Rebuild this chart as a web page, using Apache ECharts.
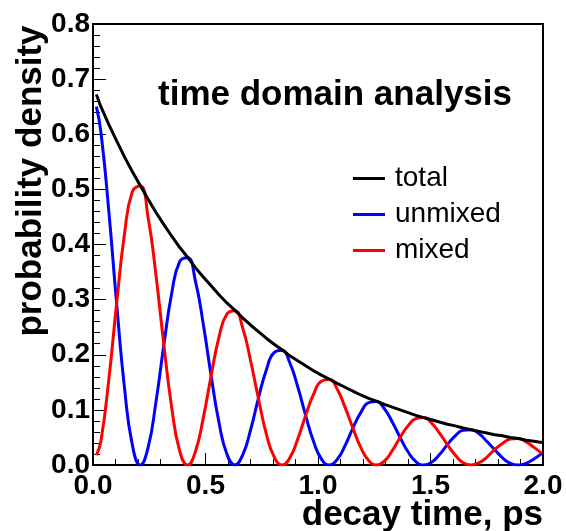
<!DOCTYPE html>
<html>
<head>
<meta charset="utf-8">
<script src="https://cdn.jsdelivr.net/npm/echarts@6/dist/echarts.min.js"></script>
<style>
  html, body { margin: 0; padding: 0; background: #fff; }
  #chart { width: 566px; height: 531px; }
</style>
</head>
<body>
<div id="chart"></div>
<script>
// decay time, ps
var times = [0.015, 0.035, 0.07, 0.105, 0.14, 0.175, 0.21, 0.245, 0.28, 0.315, 0.35, 0.385, 0.42,
  0.455, 0.49, 0.525, 0.56, 0.595, 0.63, 0.665, 0.7, 0.735, 0.77, 0.805, 0.84, 0.875, 0.91, 0.945,
  0.98, 1.015, 1.05, 1.085, 1.12, 1.155, 1.19, 1.225, 1.26, 1.295, 1.33, 1.365, 1.4, 1.435, 1.47,
  1.505, 1.54, 1.575, 1.61, 1.645, 1.68, 1.715, 1.75, 1.785, 1.82, 1.855, 1.89, 1.925, 1.96, 1.995];

var total = [0.672, 0.650, 0.618, 0.588, 0.559, 0.532, 0.507, 0.482, 0.458, 0.436, 0.415, 0.395, 0.377,
  0.358, 0.341, 0.325, 0.309, 0.294, 0.281, 0.267, 0.254, 0.242, 0.230, 0.219, 0.209, 0.198, 0.189,
  0.180, 0.171, 0.163, 0.156, 0.148, 0.141, 0.134, 0.127, 0.121, 0.116, 0.110, 0.105, 0.100, 0.095,
  0.090, 0.086, 0.082, 0.078, 0.074, 0.071, 0.067, 0.064, 0.061, 0.058, 0.055, 0.053, 0.050, 0.048,
  0.045, 0.043, 0.041];

var unmixed = [0.650, 0.604, 0.462, 0.293, 0.140, 0.036, 0.000, 0.032, 0.115, 0.218, 0.312, 0.369, 0.376,
  0.334, 0.256, 0.162, 0.077, 0.020, 0.000, 0.018, 0.063, 0.121, 0.172, 0.204, 0.208, 0.185, 0.142,
  0.090, 0.043, 0.011, 0.000, 0.010, 0.035, 0.067, 0.095, 0.113, 0.115, 0.102, 0.078, 0.050, 0.024,
  0.006, 0.000, 0.005, 0.019, 0.037, 0.053, 0.063, 0.064, 0.057, 0.043, 0.028, 0.013, 0.003, 0.000,
  0.003, 0.011, 0.021];

var mixed = [0.018, 0.043, 0.154, 0.293, 0.419, 0.496, 0.506, 0.449, 0.344, 0.218, 0.104, 0.026, 0.000,
  0.024, 0.085, 0.162, 0.232, 0.274, 0.280, 0.249, 0.190, 0.121, 0.057, 0.015, 0.000, 0.013, 0.047,
  0.090, 0.128, 0.152, 0.155, 0.138, 0.105, 0.067, 0.032, 0.008, 0.000, 0.007, 0.026, 0.050, 0.071,
  0.084, 0.086, 0.076, 0.058, 0.037, 0.018, 0.004, 0.000, 0.004, 0.014, 0.028, 0.039, 0.047, 0.048,
  0.042, 0.032, 0.021];

var legendNames = ['total', 'unmixed', 'mixed'];

var FONT = "'Liberation Sans', Arial, Helvetica, sans-serif";

function pairs(ys) {
  return times.map(function (t, i) { return [t, ys[i]]; });
}

var chart = echarts.init(document.getElementById('chart'), null, { renderer: 'canvas' });

var option = {
  backgroundColor: '#fff',
  animation: false,
  grid: {
    left: 93, top: 24, right: 23, bottom: 66,
    show: true, borderColor: '#000', borderWidth: 2, backgroundColor: 'transparent'
  },
  legend: {
    data: legendNames,
    orient: 'vertical',
    left: 353, top: 164,
    padding: 0,
    icon: 'rect',
    itemWidth: 32, itemHeight: 3,
    itemGap: 7,
    textStyle: { fontFamily: FONT, fontSize: 28, color: '#000', lineHeight: 29, padding: [0, 0, 0, 5] }
  },
  xAxis: {
    type: 'value', min: 0, max: 2, interval: 0.5,
    axisLine: { lineStyle: { color: '#000', width: 2 } },
    axisTick: { inside: true, length: 12, lineStyle: { color: '#000', width: 1 } },
    minorTick: { show: true, splitNumber: 5, length: 6, lineStyle: { color: '#000', width: 1 } },
    splitLine: { show: false },
    axisLabel: {
      margin: 7, fontFamily: FONT, fontSize: 28, fontWeight: 'bold', color: '#000',
      formatter: function (v) { return v.toFixed(1); }
    }
  },
  yAxis: {
    type: 'value', min: 0, max: 0.8, interval: 0.1,
    axisLine: { show: true, lineStyle: { color: '#000', width: 2 } },
    axisTick: { show: true, inside: true, length: 13, lineStyle: { color: '#000', width: 1 } },
    minorTick: { show: true, splitNumber: 5, length: 7, lineStyle: { color: '#000', width: 1 } },
    splitLine: { show: false },
    axisLabel: {
      margin: 3, fontFamily: FONT, fontSize: 28, fontWeight: 'bold', color: '#000',
      formatter: function (v) { return v.toFixed(1); }
    }
  },
  graphic: [
    {
      type: 'text', x: 31, y: 181, rotation: Math.PI / 2,
      style: {
        text: 'probability density', fill: '#000',
        font: 'bold 35px ' + FONT, textAlign: 'center', textVerticalAlign: 'middle'
      }
    },
    {
      type: 'text', x: 543, y: 533,
      style: {
        text: 'decay time, ps', fill: '#000',
        font: 'bold 35px ' + FONT, textAlign: 'right', textVerticalAlign: 'bottom'
      }
    },
    {
      type: 'text', x: 158, y: 113,
      style: {
        text: 'time domain analysis', fill: '#000',
        font: 'bold 35px ' + FONT, textAlign: 'left', textVerticalAlign: 'bottom'
      }
    }
  ],
  series: [
    {
      name: 'unmixed', type: 'line', data: pairs(unmixed), smooth: true,
      showSymbol: false, z: 2,
      itemStyle: { color: '#0000ff' },
      lineStyle: { color: '#0000ff', width: 3 }
    },
    {
      name: 'mixed', type: 'line', data: pairs(mixed), smooth: true,
      showSymbol: false, z: 3,
      itemStyle: { color: '#ff0000' },
      lineStyle: { color: '#ff0000', width: 3 }
    },
    {
      name: 'total', type: 'line', data: pairs(total), smooth: false,
      showSymbol: false, z: 4,
      itemStyle: { color: '#000' },
      lineStyle: { color: '#000', width: 3 }
    }
  ]
};

chart.setOption(option);
</script>
</body>
</html>
